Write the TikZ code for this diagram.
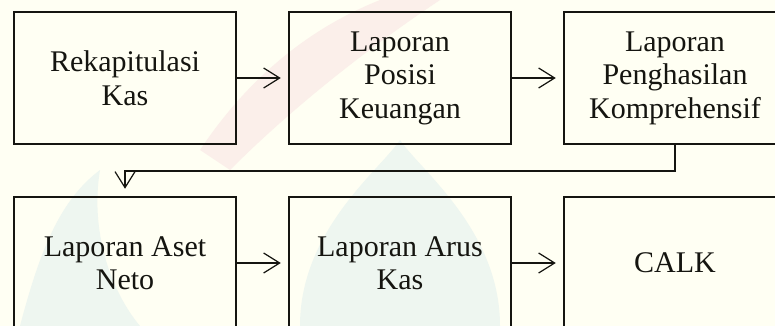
\documentclass[tikz,border=0pt]{standalone}
\usepackage{fontspec}
\setmainfont{Liberation Serif}
\usetikzlibrary{arrows.meta}
\definecolor{bgcream}{HTML}{FFFFF3}
\definecolor{ink}{HTML}{151510}
\definecolor{wmpink}{HTML}{FBEFEA}
\definecolor{wmteal}{HTML}{EEF6F0}
\tikzset{
  box/.style={draw=ink, line width=2.5pt, minimum width=222pt, minimum height=132pt,
    align=center, inner sep=0pt, text=ink,
    font=\fontsize{30}{33.5}\selectfont},
  arr/.style={draw=ink, line width=1.2pt, shorten >=7pt,
    -{Straight Barb[length=16pt,width=20pt,line width=1.2pt]}}
}
\begin{document}
\begin{tikzpicture}[x=1pt,y=-1pt]
\useasboundingbox (0,0) rectangle (775,326);
\clip (0,0) rectangle (775,326);
\fill[bgcream] (0,0) rectangle (775,326);
% faint watermark
\fill[wmteal] (300,326) .. controls (300,230) and (380,170) .. (400,140) .. controls (420,170) and (500,230) .. (500,326) -- cycle;
\fill[wmteal] (20,326) .. controls (40,250) and (60,200) .. (100,170) .. controls (90,230) and (110,290) .. (140,326) -- cycle;
\fill[wmpink] (200,150) .. controls (260,60) and (330,20) .. (380,0) -- (440,0) .. controls (380,40) and (300,100) .. (230,170) -- cycle;
\node[box] (b1) at (125,78) {Rekapitulasi\\Kas};
\node[box] (b2) at (400,78) {Laporan\\Posisi\\Keuangan};
\node[box] (b3) at (675,78) {Laporan\\Penghasilan\\Komprehensif};
\node[box] (b4) at (125,263) {Laporan Aset\\Neto};
\node[box] (b5) at (400,263) {Laporan Arus\\Kas};
\node[box] (b6) at (675,263) {CALK};
\coordinate (m) at (675,171);
\draw[arr] (b1) -- (b2);
\draw[arr] (b2) -- (b3);
\draw[arr] (b3.south) -- (m) -| (b4.north);
\draw[arr] (b4) -- (b5);
\draw[arr] (b5) -- (b6);
\end{tikzpicture}
\end{document}
